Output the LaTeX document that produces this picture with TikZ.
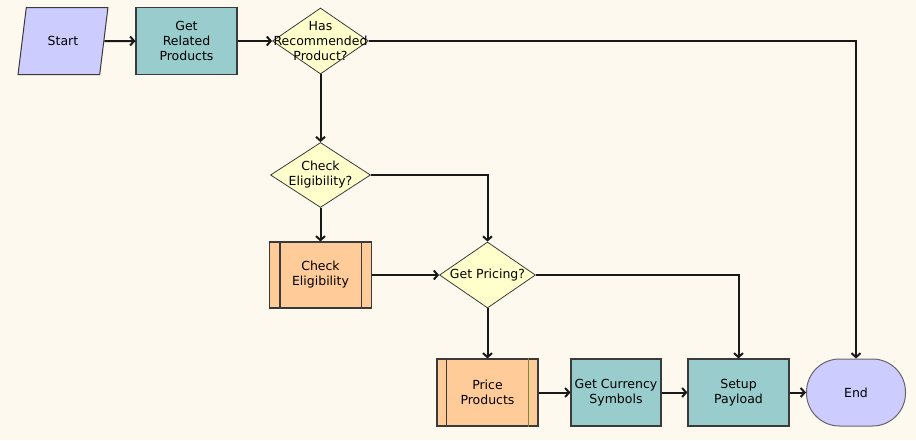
\documentclass[tikz,border=0pt]{standalone}
\usepackage{fontspec}
\setmainfont{DejaVu Sans}
\usepackage{tikz}
\usetikzlibrary{shapes.geometric,arrows.meta}
\usepackage{xcolor}
\definecolor{bgcream}{HTML}{FEF9EF}
\definecolor{lilac}{HTML}{CCCCFF}
\definecolor{taskteal}{HTML}{99CCCC}
\definecolor{decyellow}{HTML}{FFFFCC}
\definecolor{suborange}{HTML}{FFCC99}
\definecolor{edgegray}{HTML}{3A3A3A}
\definecolor{olivebar}{HTML}{7A8A3A}

\begin{document}
\begin{tikzpicture}[x=1pt,y=-1pt,>={Straight Barb[length=4pt,width=9pt]},
  every node/.style={font=\fontsize{12.5}{15}\selectfont,align=center,text=black},
  task/.style={draw=edgegray,line width=1.1pt,fill=taskteal,
               minimum width=101pt,minimum height=67pt,inner sep=0pt},
  sub/.style={task,fill=suborange},
  decision/.style={diamond,draw=edgegray,line width=0.8pt,fill=decyellow,
               minimum width=96pt,minimum height=66pt,inner sep=0pt},
  flow/.style={->,line width=2pt,draw=black!90}]
  \fill[bgcream] (0,0) rectangle (916,440);
  %nodes
  \node (start) [trapezium,trapezium left angle=70,trapezium right angle=110,
        trapezium stretches=true,draw=edgegray,line width=1pt,fill=lilac,
        minimum width=90pt,minimum height=67pt,inner sep=0pt] at (63,41) {Start};
  \node (grp) [task] at (186.5,41) {Get\\Related\\Products};
  \node (has) [decision,label={center:Has\\Recommended\\Product?}] at (320.5,41) {};
  \node (celq) [decision,minimum width=100pt,minimum height=65pt,
        label={center:Check\\Eligibility?}] at (320.5,175) {};
  \node (chk) [sub,minimum width=102pt,minimum height=66pt] at (320.5,275) {Check\\Eligibility};
  \node (gp) [decision,label={center:Get Pricing?}] at (487.5,275) {};
  \node (price) [sub] at (487.5,392.5) {Price\\Products};
  \node (gcs) [task,minimum width=90pt] at (616,392.5) {Get Currency\\Symbols};
  \node (setup) [task] at (738.5,392.5) {Setup\\Payload};
  \node (end) [draw=black!60,line width=1pt,fill=lilac,rounded corners=33pt,
        minimum width=99pt,minimum height=67pt] at (856,392.5) {End};
  %process bars
  \draw[line width=1.1pt,edgegray]
        ([xshift=11pt]chk.north west) -- ([xshift=11pt]chk.south west)
        ([xshift=-11pt]chk.north east) -- ([xshift=-11pt]chk.south east)
        ([xshift=10pt]price.north west) -- ([xshift=10pt]price.south west);
  \draw[line width=1.1pt,olivebar]
        ([xshift=-10pt]price.north east) -- ([xshift=-10pt]price.south east);
  %arrows
  \foreach \a/\b in {start.east/grp.west,grp.east/has.west,has.south/celq.north,
        celq.south/chk.north,chk.east/gp.west,gp.south/price.north,
        price.east/gcs.west,gcs.east/setup.west,setup.east/end.west}
  \draw[flow] (\a) -- (\b);
  \draw[flow] (has.east) -| (end.north);
  \draw[flow] (celq.east) -| (gp.north);
  \draw[flow] (gp.east) -| (setup.north);
\end{tikzpicture}
\end{document}
